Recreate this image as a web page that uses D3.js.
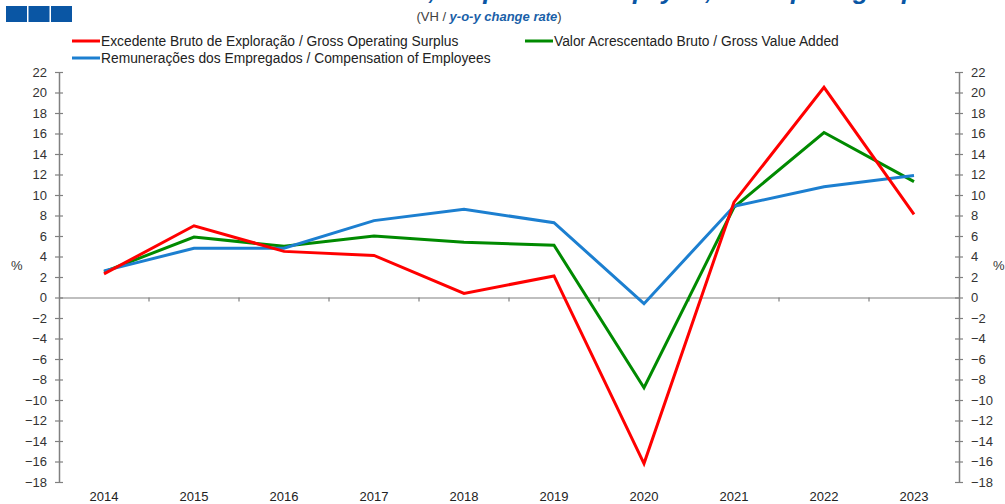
<!DOCTYPE html>
<html>
<head>
<meta charset="utf-8">
<script src="https://cdn.jsdelivr.net/npm/d3@7"></script>
<style>
  body { margin: 0; background: #fff; }
  text { font-family: "Liberation Sans", Arial, sans-serif; }
</style>
</head>
<body>
<div id="chart"></div>
<script>
var years = ["2014", "2015", "2016", "2017", "2018", "2019", "2020", "2021", "2022", "2023"];
var gosValues = [2.3, 7.0, 4.5, 4.1, 0.4, 2.1, -16.2, 9.3, 20.5, 8.1];
var gvaValues = [2.5, 5.9, 5.0, 6.0, 5.4, 5.1, -8.8, 8.8, 16.1, 11.3];
var coeValues = [2.6, 4.8, 4.8, 7.5, 8.6, 7.3, -0.6, 8.9, 10.8, 11.9];
var yTicks = [-18, -16, -14, -12, -10, -8, -6, -4, -2, 0, 2, 4, 6, 8, 10, 12, 14, 16, 18, 20, 22];
var seriesNames = [
    "Excedente Bruto de Exploração / Gross Operating Surplus",
    "Valor Acrescentado Bruto / Gross Value Added",
    "Remunerações dos Empregados / Compensation of Employees"
];
var seriesColors = ["#ff0000", "#008a00", "#1c7fd0"];

var svgWidth = 1005;
var svgHeight = 504;
var margin = { top: 72, right: 46, bottom: 22, left: 59 };
var width = svgWidth - margin.left - margin.right;
var height = svgHeight - margin.top - margin.bottom;

var svg = d3.select("#chart").append("svg")
    .attr("width", svgWidth).attr("height", svgHeight);

// header squares
svg.selectAll(".sq").data([0, 1, 2]).enter().append("rect")
    .attr("x", d => 6 + d * 22.5).attr("y", 6).attr("width", 21).attr("height", 16)
    .attr("fill", "#0a56a4");

// title runs off the top edge, as in the source (only descenders visible)
svg.append("text")
    .attr("x", 250).attr("y", -1)
    .attr("textLength", 695).attr("lengthAdjust", "spacing")
    .attr("font-size", 26).attr("font-weight", "bold").attr("font-style", "italic")
    .attr("fill", "#0a56a4")
    .text("Gross Value Added, Compensation of Employees, Gross Operating Surplus");

var sub = svg.append("text")
    .attr("x", 489).attr("y", 21).attr("text-anchor", "middle")
    .attr("font-size", 13).attr("fill", "#404040");
sub.append("tspan").text("(VH / ");
sub.append("tspan").attr("fill", "#1a5fa8").attr("font-weight", "bold").attr("font-style", "italic")
    .text("y-o-y change rate");
sub.append("tspan").text(")");

// legend
var legendPos = [[72, 41], [525, 41], [72, 58]];
seriesNames.forEach((name, i) => {
    var g = svg.append("g").attr("transform", `translate(${legendPos[i][0]}, ${legendPos[i][1]})`);
    g.append("line").attr("x1", 0).attr("x2", 28).attr("y1", 0).attr("y2", 0)
        .attr("stroke", seriesColors[i]).attr("stroke-width", 3);
    g.append("text").attr("x", 29).attr("y", 5).attr("font-size", 13.8).attr("fill", "#222")
        .text(name);
});

var chartGroup = svg.append("g")
    .attr("transform", `translate(${margin.left}, ${margin.top})`);

var xScale = d3.scaleBand().domain(years).range([0, width]);
var yScale = d3.scaleLinear().domain([-18, 22]).range([height, 0]);
var xc = d => xScale(d) + xScale.bandwidth() / 2;

var axisColor = "#808080";

// left axis
var leftAxis = d3.axisLeft(yScale).tickValues(yTicks).tickSizeInner(4).tickSizeOuter(0).tickPadding(8);
var la = chartGroup.append("g").call(leftAxis);
la.selectAll(".tick line").attr("x2", 4).attr("x1", -4);
// right axis
var rightAxis = d3.axisRight(yScale).tickValues(yTicks).tickSizeInner(4).tickSizeOuter(0).tickPadding(8);
var ra = chartGroup.append("g").attr("transform", `translate(${width}, 0)`).call(rightAxis);
ra.selectAll(".tick line").attr("x1", -4).attr("x2", 4);
[la, ra].forEach(a => {
    a.select(".domain").attr("stroke", axisColor).attr("stroke-width", 1.5);
    a.selectAll(".tick line").attr("stroke", axisColor).attr("stroke-width", 1.2);
    a.selectAll(".tick text").attr("font-size", 13).attr("fill", "#333")
        .attr("font-family", "'Liberation Sans', Arial, sans-serif");
});

// zero line with category ticks
var zeroAxis = d3.axisBottom(xScale).tickSizeInner(0).tickSizeOuter(0).tickFormat("");
var za = chartGroup.append("g").attr("transform", `translate(0, ${yScale(0)})`).call(zeroAxis);
za.select(".domain").attr("stroke", axisColor).attr("stroke-width", 1.2);
za.selectAll(".tick").remove();
za.selectAll(".sep").data(years.slice(1)).enter().append("line")
    .attr("x1", d => xScale(d)).attr("x2", d => xScale(d))
    .attr("y1", 0).attr("y2", 4).attr("stroke", axisColor).attr("stroke-width", 1.2);

// year labels
chartGroup.selectAll(".yr").data(years).enter().append("text")
    .attr("x", d => xc(d)).attr("y", height + 19).attr("text-anchor", "middle")
    .attr("font-size", 13).attr("fill", "#222").text(d => d);

// % labels
svg.append("text").attr("x", 11).attr("y", 270).attr("font-size", 13).attr("fill", "#333").text("%");
svg.append("text").attr("x", 993).attr("y", 270).attr("font-size", 13).attr("fill", "#333").text("%");

// lines
var lineGen = d3.line().x((d, i) => xc(years[i])).y(d => yScale(d));
[gosValues, gvaValues, coeValues].forEach((vals, i) => {
    chartGroup.append("path").datum(vals)
        .attr("d", lineGen).attr("fill", "none")
        .attr("stroke", seriesColors[i]).attr("stroke-width", 3)
        .attr("stroke-linejoin", "miter");
});
chartGroup.selectAll("path").filter(function() { return d3.select(this).attr("stroke") === "#ff0000"; }).raise();
</script>
</body>
</html>
